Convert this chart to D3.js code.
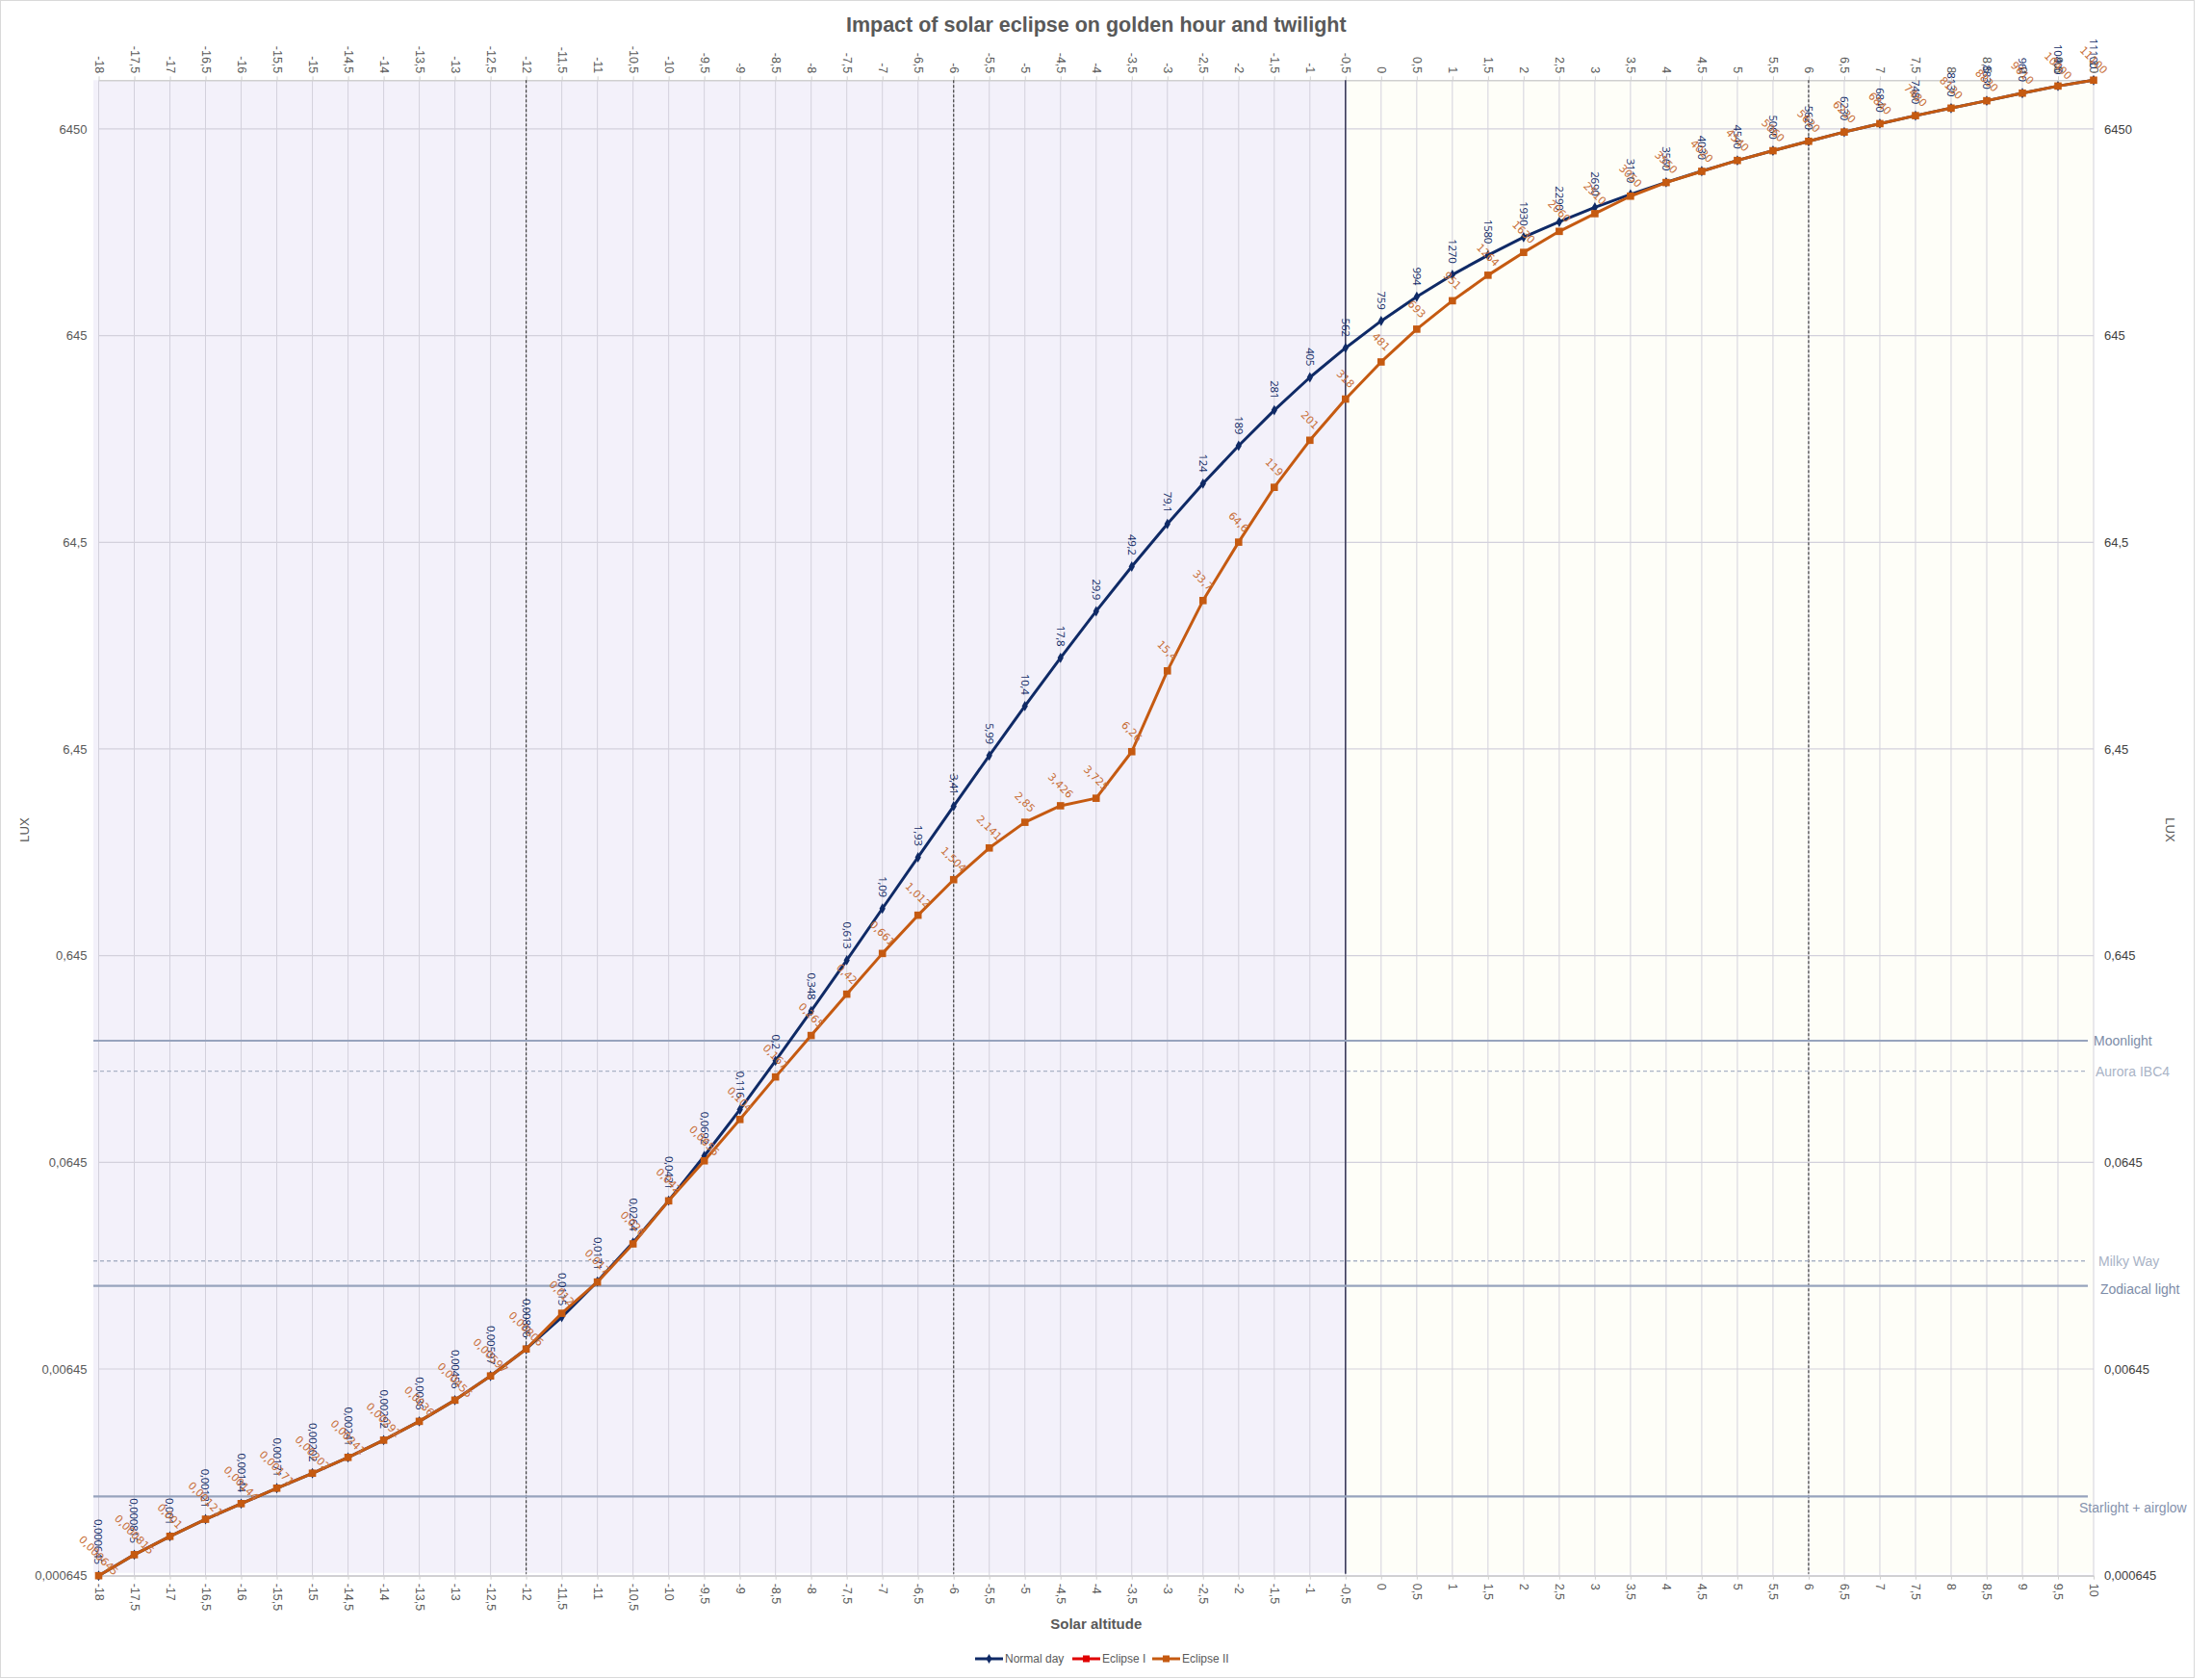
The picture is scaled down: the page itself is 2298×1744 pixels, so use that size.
<!DOCTYPE html>
<html><head><meta charset="utf-8">
<script src="https://cdn.jsdelivr.net/npm/d3@7"></script>
<style>
body{margin:0;background:#fff;}
svg{display:block;}
text{font-family:"Liberation Sans Narrow","Liberation Sans",Arial,sans-serif;}
</style></head>
<body>
<svg id="chart" width="2298" height="1744"></svg>
<script>
// ---- data ----
const altitudes = [-18,-17.5,-17,-16.5,-16,-15.5,-15,-14.5,-14,-13.5,-13,-12.5,-12,-11.5,-11,-10.5,-10,-9.5,-9,-8.5,-8,-7.5,-7,-6.5,-6,-5.5,-5,-4.5,-4,-3.5,-3,-2.5,-2,-1.5,-1,-0.5,0,0.5,1,1.5,2,2.5,3,3.5,4,4.5,5,5.5,6,6.5,7,7.5,8,8.5,9,9.5,10];
const normalDay = [0.000645,0.000815,0.001,0.00121,0.00144,0.00171,0.00202,0.00241,0.00292,0.0036,0.00456,0.00597,0.00806,
  0.0115,0.0171,0.0264,0.0421,0.0692,0.116,0.2,0.348,0.613,1.09,1.93,3.41,5.99,10.4,17.8,29.9,49.2,79.1,124,189,281,405,562,
  759,994,1270,1580,1930,2290,2690,3110,3560,4030,4540,5060,5620,6230,6840,7480,8130,8830,9610,10400,11100];
const eclipseII = [0.000645,0.000815,0.001,0.00121,0.00144,0.00171,0.00202,0.00241,0.00292,0.0036,0.00456,0.00597,0.00806,
  0.012,0.017,0.026,0.042,0.0656,0.104,0.167,0.265,0.42,0.661,1.012,1.504,2.141,2.85,3.426,3.725,6.26,15.4,33.7,64.6,119,201,318,
  481,693,951,1264,1630,2060,2510,3050,3550,4020,4540,5060,5620,6230,6840,7480,8130,8830,9610,10400,11100];
const yTickValues = [0.000645,0.00645,0.0645,0.645,6.45,64.5,645,6450];
const yTickLabels = ["0,000645","0,00645","0,0645","0,645","6,45","64,5","645","6450"];
const refNames = ["Moonlight","Aurora IBC4","Milky Way","Zodiacal light","Starlight + airglow"];
const refValues = [0.25,0.178,0.0215,0.0163,0.00156];
const markerLines = [-12,-6,-0.5,6];
const seriesNames = ["Normal day","Eclipse I","Eclipse II"];
const title = "Impact of solar eclipse on golden hour and twilight";

// ---- layout ----
const svg = d3.select("#chart");
const L = 102.5, R = 2175, T = 83.3, B = 1636.7;
const x = d3.scaleLinear().domain([-18,10]).range([L,R]);
const y = d3.scaleLog().domain([0.000645,11100]).range([B,T]);
const fmt = v => String(v).replace(".", ",");

// chart border
svg.append("rect").attr("x",0.5).attr("y",0.5).attr("width",2279).attr("height",1742)
  .attr("fill","#fff").attr("stroke","#d9d9d9");

// background bands
svg.append("rect").attr("x",97).attr("y",T).attr("width",x(-0.5)-97).attr("height",B-3-T).attr("fill","#f3f1fa");
svg.append("rect").attr("x",x(-0.5)).attr("y",T).attr("width",R-x(-0.5)).attr("height",B-3-T).attr("fill","#fefef8");

// gridlines
const grid = svg.append("g");
grid.selectAll("line.v").data(altitudes).join("line")
  .attr("x1",d=>x(d)).attr("x2",d=>x(d)).attr("y1",T).attr("y2",B)
  .attr("stroke","#d3d1dc").attr("stroke-width",1);
grid.selectAll("line.h").data(yTickValues).join("line")
  .attr("x1",L).attr("x2",R).attr("y1",d=>y(d)).attr("y2",d=>y(d))
  .attr("stroke","#d3d1dc").attr("stroke-width",1.2);

// axes
const axB = svg.append("g").attr("transform",`translate(0,${B})`)
  .call(d3.axisBottom(x).tickValues(altitudes).tickFormat(fmt).tickSize(4).tickSizeOuter(0));
axB.selectAll("text").attr("transform","rotate(90)").attr("text-anchor","start")
  .attr("x",8).attr("y",0).attr("dy","0.35em");
const axT = svg.append("g").attr("transform",`translate(0,${T})`)
  .call(d3.axisTop(x).tickValues(altitudes).tickFormat(fmt).tickSize(4).tickSizeOuter(0));
axT.selectAll("text").attr("transform","rotate(90)").attr("text-anchor","end")
  .attr("x",-7).attr("y",0).attr("dy","0.35em");
[axB,axT].forEach(a=>{
  a.select(".domain").attr("stroke","#d0d0d0").attr("stroke-width",1.5);
  a.selectAll(".tick line").attr("stroke","#d0d0d0");
  a.selectAll("text").attr("fill","#595959").attr("font-size",12.5)
    .style("font-family",'"Liberation Sans Narrow","Liberation Sans",sans-serif');
});
const axL = svg.append("g").attr("transform",`translate(${L-10},0)`)
  .call(d3.axisLeft(y).tickValues(yTickValues).tickFormat((d,i)=>yTickLabels[i]).tickSize(0));
axL.select(".domain").remove();
axL.selectAll("text").attr("fill","#595959").attr("font-size",13).attr("x",-2)
  .style("font-family",'"Liberation Sans Narrow","Liberation Sans",sans-serif');
const axR = svg.append("g").attr("transform",`translate(${R+8},0)`)
  .call(d3.axisRight(y).tickValues(yTickValues).tickFormat((d,i)=>yTickLabels[i]).tickSize(0));
axR.select(".domain").remove();
axR.selectAll("text").attr("fill","#404040").attr("font-size",13).attr("x",3)
  .style("font-family",'"Liberation Sans Narrow","Liberation Sans",sans-serif');

// vertical marker lines
svg.selectAll("line.mk").data(markerLines).join("line")
  .attr("x1",d=>x(d)).attr("x2",d=>x(d)).attr("y1",T).attr("y2",B-2)
  .attr("stroke",d=>d===-0.5?"#3b3b5c":"#404040")
  .attr("stroke-width",d=>d===-0.5?1.6:1.2)
  .attr("stroke-dasharray",d=>d===-0.5?null:"3,2");

// reference lines
const refStyle = {
  "Moonlight":{dash:null,col:"#97a3bd",tc:"#7d8ca8",w:2.2,dx:0,dy:0},
  "Aurora IBC4":{dash:"4,3",col:"#aab3c6",tc:"#a9b3c6",w:1.3,dx:2,dy:0},
  "Milky Way":{dash:"4,3",col:"#aab3c6",tc:"#a9b3c6",w:1.3,dx:5,dy:0},
  "Zodiacal light":{dash:null,col:"#97a3bd",tc:"#7d8ca8",w:2.2,dx:7,dy:4},
  "Starlight + airglow":{dash:null,col:"#97a3bd",tc:"#8592ad",w:2.2,dx:-15,dy:12}
};
const refG = svg.append("g");
refNames.forEach((n,i)=>{
  const s = refStyle[n];
  refG.append("line").attr("x1",97).attr("x2",R-6).attr("y1",y(refValues[i])).attr("y2",y(refValues[i]))
    .attr("stroke",s.col).attr("stroke-width",s.w).attr("stroke-dasharray",s.dash);
  refG.append("text").attr("x",R+s.dx).attr("y",y(refValues[i])+s.dy).attr("dy","0.35em")
    .attr("fill",s.tc).attr("font-size",14).text(n);
});

// series
const series = [
  {name:"Normal day", values:normalDay, color:"#0f2a66"},
  {name:"Eclipse II", values:eclipseII, color:"#c55a11"}
];
const line = d3.line().x(d=>x(d[0])).y(d=>y(d[1]));
series.forEach(s=>{
  const pts = altitudes.map((a,i)=>[a,s.values[i]]);
  svg.append("path").datum(pts).attr("d",line).attr("fill","none")
    .attr("stroke",s.color).attr("stroke-width",3).attr("stroke-linejoin","round");
  const g = svg.append("g");
  if (s.name==="Normal day") {
    g.selectAll("path").data(pts).join("path")
      .attr("d",d3.symbol(d3.symbolDiamond,34)())
      .attr("transform",d=>`translate(${x(d[0])},${y(d[1])})`).attr("fill",s.color);
  } else {
    g.selectAll("rect").data(pts).join("rect")
      .attr("x",d=>x(d[0])-3.8).attr("y",d=>y(d[1])-3.8).attr("width",7.6).attr("height",7.6)
      .attr("fill",s.color);
  }
});
// data labels
const lblN = svg.append("g");
altitudes.forEach((a,i)=>{
  const px = x(a), py = y(normalDay[i]);
  lblN.append("text").attr("transform",`translate(${px},${py-12}) rotate(90)`)
    .attr("text-anchor","end").attr("dy","0.35em").attr("fill","#0f2a66")
    .attr("font-size",11.5).style("font-family",'"Open Sans","DejaVu Sans",sans-serif')
    .style("letter-spacing","-0.3px").text(fmt(normalDay[i]));
});
const lblE = svg.append("g");
altitudes.forEach((a,i)=>{
  const px = x(a), py = y(eclipseII[i]);
  lblE.append("text").attr("transform",`translate(${px},${py-21}) rotate(45)`)
    .attr("text-anchor","middle").attr("dy","0.35em").attr("fill","#c8703a")
    .attr("font-size",11).style("font-family",'"DejaVu Sans",sans-serif').text(fmt(eclipseII[i]));
});

// title & axis titles
svg.append("text").attr("x",(L+R)/2).attr("y",33).attr("text-anchor","middle")
  .attr("font-size",21.5).attr("font-weight","bold").attr("fill","#595959").text(title);
svg.append("text").attr("x",(L+R)/2).attr("y",1692).attr("text-anchor","middle")
  .attr("font-size",15).attr("font-weight","bold").attr("fill","#595959").text("Solar altitude");
svg.append("text").attr("transform","translate(30,862) rotate(-90)").attr("text-anchor","middle")
  .attr("font-size",13).attr("fill","#595959").text("LUX");
svg.append("text").attr("transform","translate(2250,862) rotate(90)").attr("text-anchor","middle")
  .attr("font-size",13).attr("fill","#595959").text("LUX");

// legend
const legendColors = {"Normal day":"#0f2a66","Eclipse I":"#e00000","Eclipse II":"#c55a11"};
const legendX = [1013,1114,1197];
const lg = svg.append("g");
seriesNames.forEach((n,i)=>{
  const x0 = legendX[i], yy = 1723, c = legendColors[n];
  lg.append("line").attr("x1",x0).attr("x2",x0+29).attr("y1",yy).attr("y2",yy)
    .attr("stroke",c).attr("stroke-width",3);
  if (n==="Normal day") lg.append("path").attr("d",d3.symbol(d3.symbolDiamond,30)())
    .attr("transform",`translate(${x0+14.5},${yy})`).attr("fill",c);
  else lg.append("rect").attr("x",x0+11).attr("y",yy-3.5).attr("width",7).attr("height",7).attr("fill",c);
  lg.append("text").attr("x",x0+31).attr("y",yy).attr("dy","0.35em").attr("font-size",12)
    .attr("fill","#595959").text(n);
});
</script>
</body></html>
